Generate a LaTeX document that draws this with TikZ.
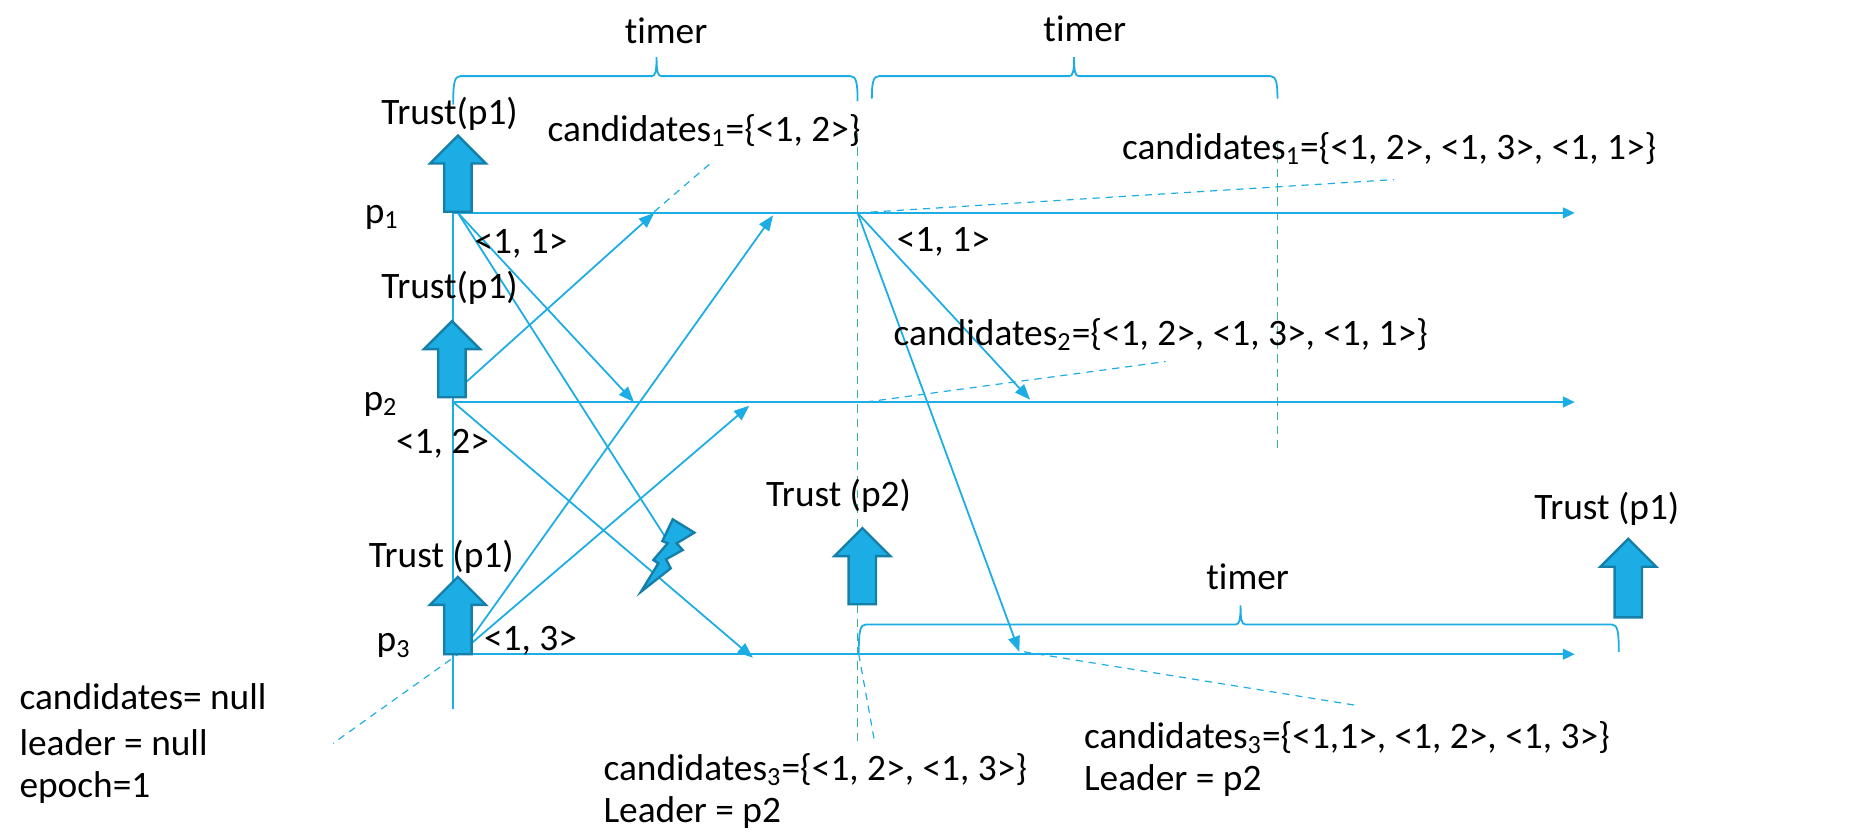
\documentclass[tikz,border=0pt]{standalone}
\usepackage{fontspec}
\setmainfont[Ligatures=NoCommon]{Carlito}
\usetikzlibrary{arrows.meta}
\definecolor{ln}{HTML}{1CADE4}
\definecolor{ed}{HTML}{157FA8}
\definecolor{tl}{HTML}{35B58F}
\tikzset{
 x=0.5pt,y=-0.5pt,
 txt/.style={font=\fontsize{15.7pt}{18pt}\selectfont,inner sep=0pt,text=black},
 ltxt/.style={txt,anchor=west},
 msg/.style={draw=ln,line width=0.75pt,-{Triangle[length=6.5pt,width=5pt]}},
 axis/.style={draw=ln,line width=0.9pt,-{Triangle[length=5pt,width=4.5pt]}},
 guide/.style={draw=tl,line width=0.5pt,dash pattern=on 3.5pt off 2.5pt},
 callout/.style={draw=ln,line width=0.5pt,dash pattern=on 3pt off 2.5pt},
 brc/.style={draw=ln,line width=0.75pt},
 bigup/.style={draw=ed,fill=ln,line width=1pt,line join=miter},
}
\newcommand{\upblock}[3]{% x, tip y, bottom y
 \draw[bigup] (#1,#2) -- ++(23.5,23.5) -- ++(-12,0) |- (#1-11.5,#3) |- (#1-23.5,#2+23.5) -- cycle;}
\newcommand{\topbrace}[6]{% x1,y1,x2,y2,ytop,peak
 \draw[brc] (#1,#2) .. controls (#1,#5+6) and (#1+1,#5) .. (#1+6,#5) -- (#6-4,#5) .. controls (#6-1,#5) and (#6,#5-4) .. (#6,#5-16)
 .. controls (#6,#5-4) and (#6+1,#5) .. (#6+4,#5) -- (#3-6,#5) .. controls (#3-1,#5) and (#3,#5+6) .. (#3,#4);}
\begin{document}
\begin{tikzpicture}
\useasboundingbox (0,0) rectangle (1568,703);
% coordinates
\coordinate (a1s) at (381,179); \coordinate (a1e) at (1324,179);
\coordinate (a2s) at (381,338); \coordinate (a2e) at (1324,338);
\coordinate (a3s) at (381,550); \coordinate (a3e) at (1324,550);
\coordinate (vt) at (381,179); \coordinate (vb) at (381,596);
% guides
\draw[guide] (721,112) -- (721,625);
\draw[guide] (1074,118) -- (1074,378);
% axes
\draw[draw=ln,line width=0.9pt] (vt) -- (vb);
\draw[axis] (a1s) -- (a1e);
\draw[axis] (a2s) -- (a2e);
\draw[axis] (a3s) -- (a3e);
% messages
\draw[msg] (385,179) -- (533,338);
\draw[msg,-] (385,179) -- (559,451);
\draw[msg] (381,331) -- (550,179);
\draw[msg] (381,338) -- (633,553);
\draw[msg] (388,548) -- (650,181);
\draw[msg] (388,548) -- (630,341);
\draw[msg] (721,179) -- (866,336);
\draw[msg] (721,179) -- (857,548);
% callouts
\draw[callout] (550,178) -- (600,135);
\draw[callout] (721,179) -- (1172,151);
\draw[callout] (728,338) -- (980,304);
\draw[callout] (861,548) -- (1140,593);
\draw[callout] (722,550) -- (735,622);
\draw[callout] (388,548) -- (280,625);
% braces
\topbrace{381}{88}{721}{85}{64}{552}
\topbrace{733}{83}{1074}{83}{64}{903}
\topbrace{722}{550}{1361}{548}{525}{1043}
% block arrows
\upblock{385}{114}{178}
\upblock{380}{270}{334}
\upblock{385}{485}{550}
\upblock{725}{444}{508}
\upblock{1369}{453}{519}
% lightning
\draw[bigup,line width=1pt] (565.6,436.6) -- (583.8,447.8) -- (568.9,456.8) -- (574,462.4) -- (560,470.2) -- (563.9,477.8) -- (538.9,497.5) -- (553.5,473.6) -- (549.3,470.8) -- (561.3,456.8) -- (556.9,454.9) -- cycle;
% labels
\node[txt] (t1) at (560,26) {timer};
\node[txt] (t2) at (912,24) {timer};
\node[txt] (t3) at (1049,485) {timer};
\node[txt] (tr1) at (378,96) {Trust(p1)};
\node[txt] (tr2) at (378,242) {Trust(p1)};
\node[txt] (tr3) at (371,468) {Trust (p1)};
\node[txt] (tr4) at (705,417) {Trust (p2)};
\node[txt] (tr5) at (1351,428) {Trust (p1)};
\node[txt] (p1) at (321,183) {p\textsubscript{1}};
\node[txt] (p2) at (320,340) {p\textsubscript{2}};
\node[txt] (p3) at (331,543) {p\textsubscript{3}};
\node[txt] (m1) at (438,205) {<1, 1>};
\node[txt] (m2) at (793,203) {<1, 1>};
\node[txt] (m3) at (372,373) {<1, 2>};
\node[txt] (m4) at (446,539) {<1, 3>};
\node[ltxt] (c1) at (460,110) {candidates\textsubscript{1}=\{<1, 2>\}};
\node[ltxt] (c2) at (943,125) {candidates\textsubscript{1}=\{<1, 2>, <1, 3>, <1, 1>\}};
\node[ltxt] (c3) at (751,281) {candidates\textsubscript{2}=\{<1, 2>, <1, 3>, <1, 1>\}};
\node[ltxt] (c4) at (507,647) {candidates\textsubscript{3}=\{<1, 2>, <1, 3>\}};
\node[ltxt] (l4) at (507,683) {Leader = p2};
\node[ltxt] (c5) at (911,620) {candidates\textsubscript{3}=\{<1,1>, <1, 2>, <1, 3>\}};
\node[ltxt] (l5) at (911,656) {Leader = p2};
\node[ltxt] (n1) at (16,586) {candidates= null};
\node[ltxt] (n2) at (16,624) {leader = null};
\node[ltxt] (n3) at (16,662) {epoch=1};
\end{tikzpicture}
\end{document}
